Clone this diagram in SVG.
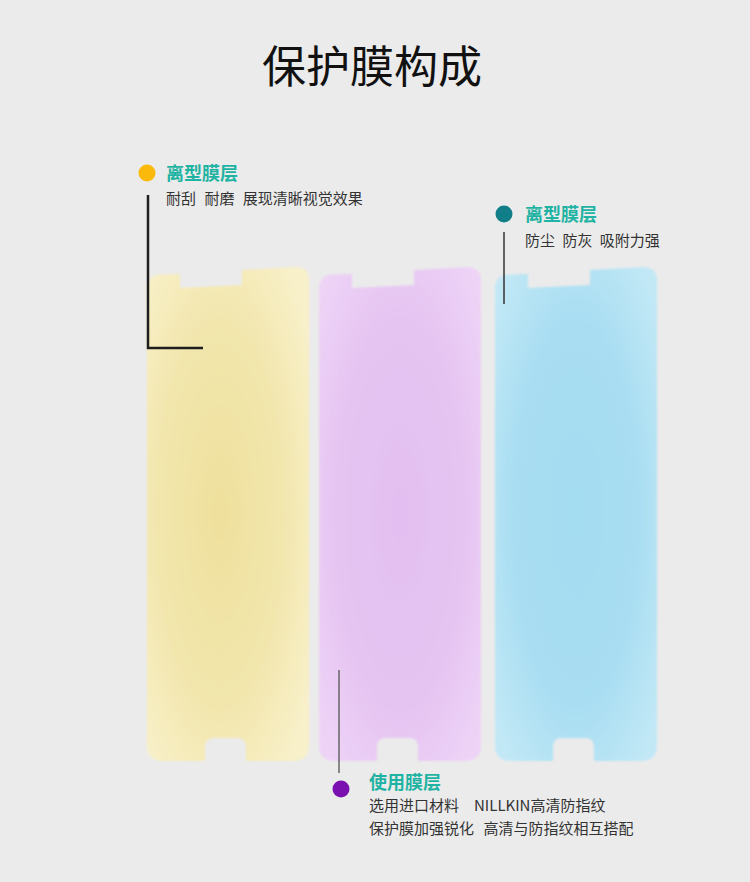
<svg xmlns="http://www.w3.org/2000/svg" width="750" height="882" viewBox="0 0 750 882">
<style>
.t{font-family:"Noto Sans CJK SC","Noto Sans",sans-serif}
.h{font-size:18px;font-weight:700;fill:#1fb3a3}
.s{font-size:15px;fill:#333}
</style>
<defs>
<path id="ph" d="M0,22 Q0,8 14,7.5 L33,7 L33,21 L95,18 L95,3 L148,0 Q162,0 162,14 L162,478 Q162,494 146,494 L101,494 Q98,494 99,488 L99,480 Q99,471 90,471 L67,471 Q58,471 58,480 L58,488 Q59,494 56,494 L16,494 Q0,494 0,478 Z"/>
<radialGradient id="gy" cx="0.45" cy="0.5" r="0.65">
<stop offset="0" stop-color="#efe09c"/><stop offset="0.6" stop-color="#f2e6ad"/><stop offset="1" stop-color="#f8f0c8"/>
</radialGradient>
<radialGradient id="gp" cx="0.5" cy="0.5" r="0.65">
<stop offset="0" stop-color="#e2bff0"/><stop offset="0.6" stop-color="#e5c4f2"/><stop offset="1" stop-color="#eed3f6"/>
</radialGradient>
<radialGradient id="gb" cx="0.5" cy="0.5" r="0.65">
<stop offset="0" stop-color="#a4dcf1"/><stop offset="0.6" stop-color="#a9def2"/><stop offset="1" stop-color="#c2e8f6"/>
</radialGradient>
<filter id="bl" x="-5%" y="-5%" width="110%" height="110%"><feGaussianBlur stdDeviation="1"/></filter>
</defs>
<rect width="750" height="882" fill="#ebebeb"/>
<text class="t" x="372" y="83" font-size="44" text-anchor="middle" fill="#111">保护膜构成</text>
<g id="panel-yellow"><use href="#ph" transform="translate(147,267)" fill="url(#gy)" filter="url(#bl)"/></g>
<g id="panel-purple"><use href="#ph" transform="translate(319,267)" fill="url(#gp)" filter="url(#bl)"/></g>
<g id="panel-blue"><use href="#ph" transform="translate(495,267)" fill="url(#gb)" filter="url(#bl)"/></g>
<g id="connectors" fill="none">
<polyline points="148,195 148,348 203,348" stroke="#1e1e1e" stroke-width="2.5"/>
<line x1="504" y1="232" x2="504" y2="304" stroke="#333" stroke-width="1.5"/>
<line x1="339" y1="670" x2="339" y2="773" stroke="#666" stroke-width="1.5"/>
</g>
<g id="label-release1">
<circle cx="147" cy="173" r="8.5" fill="#fbb90c"/>
<text class="t h" x="166" y="180">离型膜层</text>
<text class="t s" x="166" y="204">耐刮 <tspan dx="5">耐磨 </tspan><tspan dx="5">展现清晰视觉效果</tspan></text>
</g>
<g id="label-release2">
<circle cx="504" cy="214" r="8.5" fill="#117f89"/>
<text class="t h" x="525" y="221">离型膜层</text>
<text class="t s" x="525" y="246">防尘 <tspan dx="4">防灰 </tspan><tspan dx="4">吸附力强</tspan></text>
</g>
<g id="label-use">
<circle cx="341" cy="789" r="8.5" fill="#7a10b0"/>
<text class="t h" x="369" y="789">使用膜层</text>
<text class="t s" x="369" y="811">选用进口材料<tspan x="474">NILLKIN高清防指纹</tspan></text>
<text class="t s" x="369" y="834">保护膜加强锐化 <tspan dx="6">高清与防指纹相互搭配</tspan></text>
</g>
</svg>
